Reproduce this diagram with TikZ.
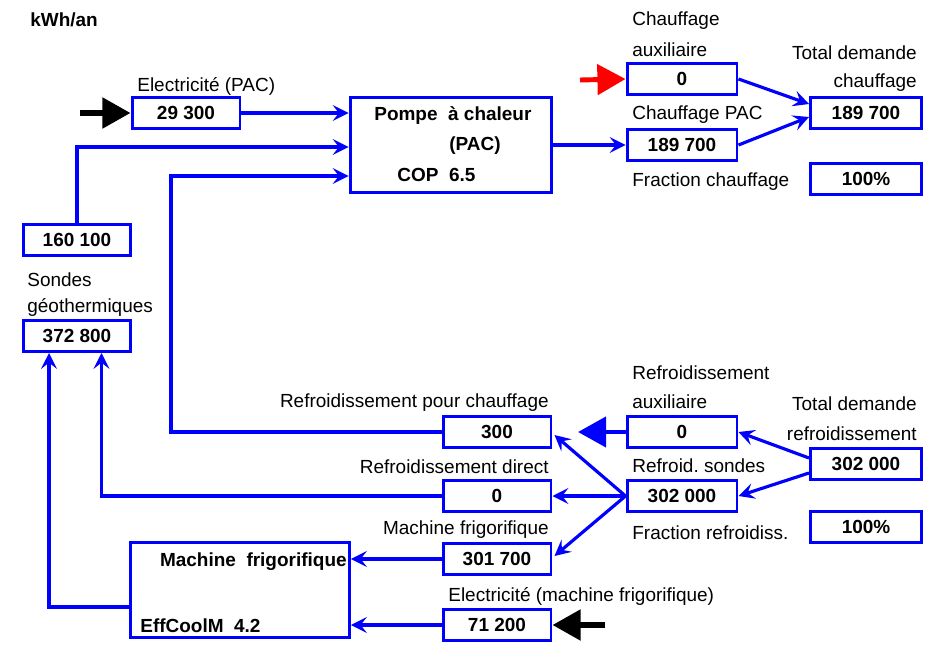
\documentclass[tikz,border=0pt]{standalone}
\usepackage{fontspec}
\setmainfont{Liberation Sans}
\frenchspacing
\usetikzlibrary{arrows.meta,calc}
\definecolor{flowblue}{RGB}{0,0,255}
\definecolor{auxred}{RGB}{255,0,0}

\tikzset{
  valbox/.style={draw=flowblue,line width=1.7pt,font=\fontsize{10.8}{12}\selectfont\bfseries,minimum width=2.16cm,minimum height=0.62cm,inner sep=0pt},
  unitbox/.style={draw=flowblue,line width=1.7pt,inner sep=0pt},
  lbl/.style={inner sep=0pt,font=\fontsize{10.8}{12}\selectfont},
  boldlbl/.style={inner sep=0pt,font=\fontsize{10.8}{12}\selectfont\bfseries},
  flowline/.style={flowblue,line width=1.8pt,-{Stealth[length=9pt,width=9pt,inset=3.5pt]}},
  bigin/.style={line width=3.2pt,-{Triangle[length=16pt,width=17pt]}}
}

\begin{document}
\begin{tikzpicture}[x=0.02cm,y=-0.02cm,font=\fontsize{10.8}{12}\selectfont]
  \useasboundingbox (0,0) rectangle (935,648);

  % heat pump side
  \node[boldlbl,anchor=west] (unit) at (30,20) {kWh/an};
  \node[valbox] (elpac) at (186,113) {29 300};
  \node[lbl,anchor=west] (elpaclbl) at (137,86) {Electricité (PAC)};
  \node[unitbox,minimum width=4.04cm,minimum height=1.9cm] (pac) at (451,145) {};
  \node[boldlbl,anchor=west] (pac1) at (374,116) {Pompe~~à chaleur};
  \node[boldlbl,anchor=west] (pac2) at (449,146) {(PAC)};
  \node[boldlbl,anchor=west] (pac3) at (397,175) {COP~~6.5};
  \node[valbox] (b160) at (77,240) {160 100};
  \node[lbl,anchor=west] (sond1) at (27,280) {Sondes};
  \node[lbl,anchor=west] (sond2) at (27,307) {géothermiques};
  \node[valbox] (b372) at (77,336) {372 800};

  \node[valbox,minimum width=2.2cm] (auxch) at (682,79) {0};
  \node[lbl,anchor=west] (auxch1) at (632,21) {Chauffage};
  \node[lbl,anchor=west] (auxch2) at (632,50) {auxiliaire};
  \node[valbox,minimum width=2.2cm] (chpac) at (682,145) {189 700};
  \node[lbl,anchor=west] (chpaclbl) at (632,115) {Chauffage PAC};
  \node[valbox,minimum width=2.22cm] (totch) at (866,113) {189 700};
  \node[lbl,anchor=east] (totch1) at (917,53) {Total demande};
  \node[lbl,anchor=east] (totch2) at (917,83) {chauffage};
  \node[lbl,anchor=west] (frchlbl) at (632,182) {Fraction chauffage};
  \node[valbox,minimum width=2.22cm] (frch) at (866,179) {100\%};

  % cooling side
  \node[valbox] (r300) at (497,432) {300};
  \node[lbl,anchor=east] (r300lbl) at (549,403) {Refroidissement pour chauffage};
  \node[valbox] (rdir) at (497,496) {0};
  \node[lbl,anchor=east] (rdirlbl) at (549,467) {Refroidissement direct};
  \node[valbox] (rmf) at (497,559) {301 700};
  \node[lbl,anchor=east] (rmflbl) at (549,530) {Machine frigorifique};
  \node[valbox] (emf) at (497,625) {71 200};
  \node[lbl,anchor=west] (emflbl) at (448,596) {Electricité (machine frigorifique)};
  \node[unitbox,minimum width=4.38cm,minimum height=1.9cm] (mf) at (240,590) {};
  \node[boldlbl,anchor=east] (mf1) at (347,562) {Machine~~frigorifique};
  \node[boldlbl,anchor=west] (mf2) at (140,626) {EffCoolM~~4.2};

  \node[valbox,minimum width=2.2cm] (auxrf) at (682,432) {0};
  \node[lbl,anchor=west] (auxrf1) at (632,373) {Refroidissement};
  \node[lbl,anchor=west] (auxrf2) at (632,402) {auxiliaire};
  \node[valbox,minimum width=2.2cm] (rsond) at (682,496) {302 000};
  \node[lbl,anchor=west] (rsondlbl) at (632,466) {Refroid. sondes};
  \node[valbox,minimum width=2.22cm] (totrf) at (866,464) {302 000};
  \node[lbl,anchor=east] (totrf1) at (917,404) {Total demande};
  \node[lbl,anchor=east] (totrf2) at (917,434) {refroidissement};
  \node[lbl,anchor=west] (frrflbl) at (632,533) {Fraction refroidiss.};
  \node[valbox,minimum width=2.22cm] (frrf) at (866,527) {100\%};

  % inputs from outside
  \coordinate (elin) at (80,113);
  \coordinate (auxchin) at (580,80);
  \coordinate (emfin) at (605,625);
  \coordinate (auxrfout) at (578,432);
  \draw[bigin,black] (elin) -- (elpac.west);
  \draw[bigin,auxred,line width=2.8pt] (auxchin) -- (auxch.west);
  \draw[bigin,black] (emfin) -- (emf.east);
  \draw[bigin,flowblue,line width=2.8pt] (auxrf.west) -- (auxrfout);

  % heat flows
  \draw[flowline] (elpac.east) -- (elpac.east -| pac.west);
  \draw[flowline] (b160.north) |- ($(pac.west)+(0,2)$);
  \draw[flowline] (r300.west) -| (171,176) -- ($(pac.west)+(0,31)$);
  \draw[flowline] (chpac.west -| pac.east) -- (chpac.west);
  \draw[flowline] (auxch.east) -- ($(totch.west)+(0,-9)$);
  \draw[flowline] (chpac.east) -- ($(totch.west)+(0,4)$);

  % cooling flows
  \draw[flowline] ($(totrf.west)+(0,-6)$) -- (auxrf.east);
  \draw[flowline] ($(totrf.west)+(0,9)$) -- (rsond.east);
  \draw[flowline] (rsond.west) -- ($(r300.east)+(2,3)$);
  \draw[flowline] (rsond.west) -- (rdir.east);
  \draw[flowline] (rsond.west) -- ($(rmf.east)+(2,-3)$);
  \draw[flowline] (rdir.west) -| ($(b372.south)+(24.5,0)$);
  \draw[flowline] (rmf.west) -- (rmf.west -| mf.east);
  \draw[flowline] (emf.west) -- (emf.west -| mf.east);
  \draw[flowline] ($(mf.west)+(0,17)$) -| ($(b372.south west)+(27.5,0)$);
\end{tikzpicture}
\end{document}
